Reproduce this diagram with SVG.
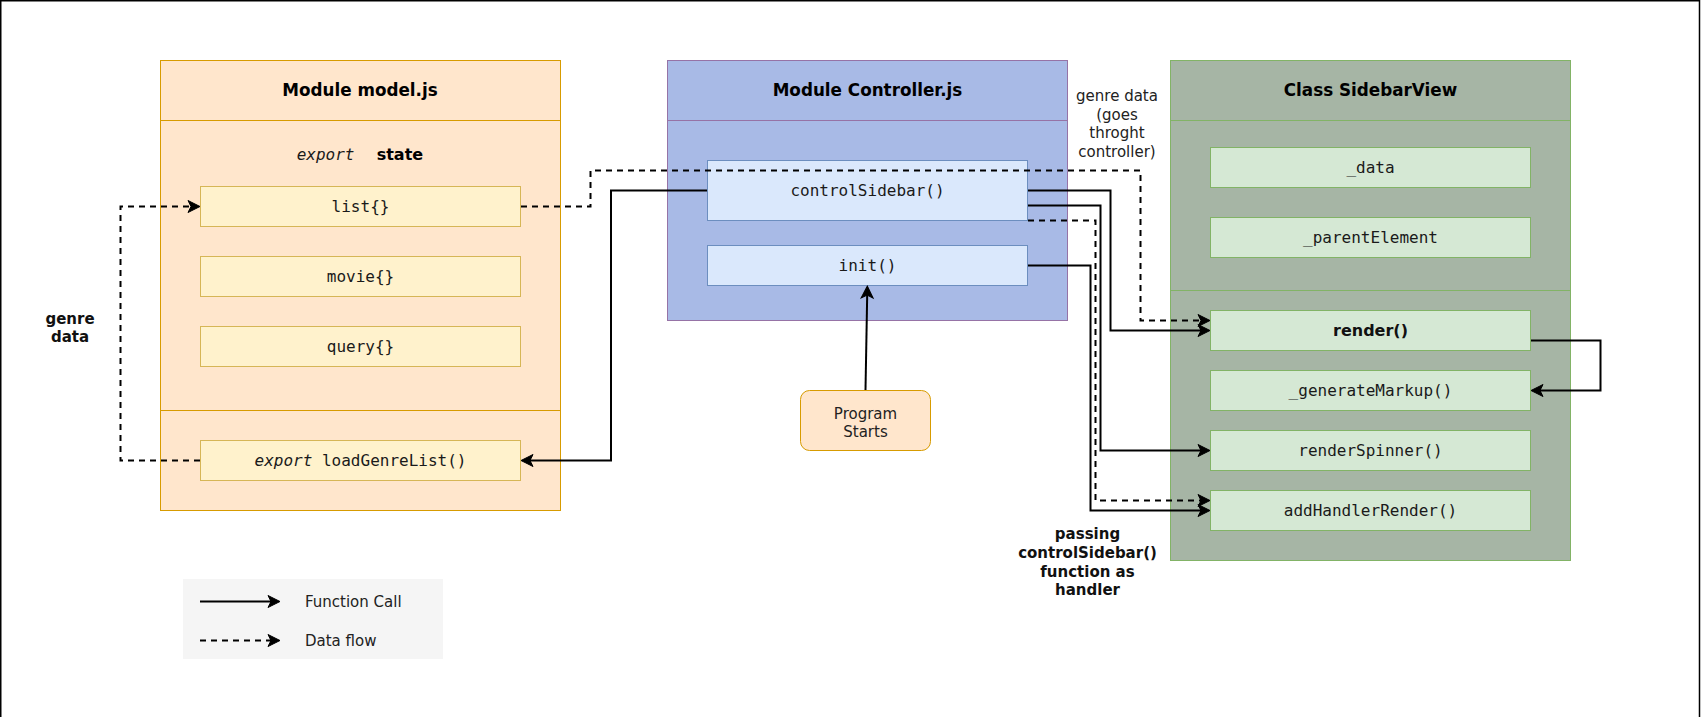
<svg xmlns="http://www.w3.org/2000/svg" width="1701" height="717" viewBox="0 0 1701 717">
  <style>
    .sans { font-family: "DejaVu Sans", "Liberation Sans", sans-serif; }
    .mono { font-family: "DejaVu Sans Mono", "Liberation Mono", monospace; font-size: 16px; fill: #1a1a1a; }
    .title { font-family: "DejaVu Sans", "Liberation Sans", sans-serif; font-size: 16.8px; font-weight: bold; fill: #000; }
    .label { font-family: "DejaVu Sans", "Liberation Sans", sans-serif; font-size: 15px; fill: #222; }
    .blabel { font-family: "DejaVu Sans", "Liberation Sans", sans-serif; font-size: 15px; font-weight: bold; fill: #111; }
    .model { fill: #ffe6cc; stroke: #d79b00; stroke-width: 1; }
    .model-item { fill: #fff2cc; stroke: #d6b656; stroke-width: 1; }
    .ctrl { fill: #a8bae6; stroke: #9673a6; stroke-width: 1; }
    .ctrl-item { fill: #dae8fc; stroke: #6c8ebf; stroke-width: 1; }
    .view { fill: #a6b5a5; stroke: #82b366; stroke-width: 1; }
    .view-item { fill: #d5e8d4; stroke: #82b366; stroke-width: 1; }
    .call { fill: none; stroke: #000; stroke-width: 2; marker-end: url(#arrow); }
    .flow { fill: none; stroke: #000; stroke-width: 2; stroke-dasharray: 6 5; marker-end: url(#arrow); }
  </style>
  <defs>
    <marker id="arrow" markerUnits="userSpaceOnUse" markerWidth="20" markerHeight="20" refX="0" refY="0" orient="auto" overflow="visible">
      <path d="M 3 0 L -9 -6 L -6 0 L -9 6 Z" fill="#000" stroke="#000" stroke-width="1" stroke-linejoin="miter"/>
    </marker>
  </defs>

  <rect x="0" y="0" width="1701" height="717" fill="#ffffff"/>
  <path d="M 0.75 717 V 0.75 H 1699.5 V 717" fill="none" stroke="#000" stroke-width="1.5"/>

  <!-- Module model.js -->
  <g id="model">
    <rect class="model" x="160.5" y="60.5" width="400" height="450"/>
    <line x1="160.5" y1="120.5" x2="560.5" y2="120.5" stroke="#d79b00"/>
    <line x1="160.5" y1="410.5" x2="560.5" y2="410.5" stroke="#d79b00"/>
    <text class="title" x="360" y="96" text-anchor="middle">Module model.js</text>
    <text class="mono" x="296.7" y="160" font-style="italic">export</text>
    <text class="sans" x="376.7" y="160" font-size="16" font-weight="bold" fill="#000">state</text>
  </g>
  <g id="model-list">
    <rect class="model-item" x="200.5" y="186.5" width="320" height="40"/>
    <text class="mono" x="360.5" y="212" text-anchor="middle">list{}</text>
  </g>
  <g id="model-movie">
    <rect class="model-item" x="200.5" y="256.5" width="320" height="40"/>
    <text class="mono" x="360.5" y="282" text-anchor="middle">movie{}</text>
  </g>
  <g id="model-query">
    <rect class="model-item" x="200.5" y="326.5" width="320" height="40"/>
    <text class="mono" x="360.5" y="352" text-anchor="middle">query{}</text>
  </g>
  <g id="model-loadGenreList">
    <rect class="model-item" x="200.5" y="440.5" width="320" height="40"/>
    <text class="mono" x="360.5" y="466" text-anchor="middle"><tspan font-style="italic">export</tspan> loadGenreList()</text>
  </g>

  <!-- Module Controller.js -->
  <g id="controller">
    <rect class="ctrl" x="667.5" y="60.5" width="400" height="260"/>
    <line x1="667.5" y1="120.5" x2="1067.5" y2="120.5" stroke="#9673a6"/>
    <text class="title" x="867.5" y="96" text-anchor="middle">Module Controller.js</text>
  </g>
  <g id="controller-controlSidebar">
    <rect class="ctrl-item" x="707.5" y="160.5" width="320" height="60"/>
    <text class="mono" x="867.5" y="196" text-anchor="middle">controlSidebar()</text>
  </g>
  <g id="controller-init">
    <rect class="ctrl-item" x="707.5" y="245.5" width="320" height="40"/>
    <text class="mono" x="867.5" y="271" text-anchor="middle">init()</text>
  </g>

  <!-- Class SidebarView -->
  <g id="sidebar-view">
    <rect class="view" x="1170.5" y="60.5" width="400" height="500"/>
    <line x1="1170.5" y1="120.5" x2="1570.5" y2="120.5" stroke="#82b366"/>
    <line x1="1170.5" y1="290.5" x2="1570.5" y2="290.5" stroke="#82b366"/>
    <text class="title" x="1370.5" y="96" text-anchor="middle">Class SidebarView</text>
  </g>
  <g id="view-data">
    <rect class="view-item" x="1210.5" y="147.5" width="320" height="40"/>
    <text class="mono" x="1370.5" y="173" text-anchor="middle">_data</text>
  </g>
  <g id="view-parentElement">
    <rect class="view-item" x="1210.5" y="217.5" width="320" height="40"/>
    <text class="mono" x="1370.5" y="243" text-anchor="middle">_parentElement</text>
  </g>
  <g id="view-render">
    <rect class="view-item" x="1210.5" y="310.5" width="320" height="40"/>
    <text class="sans" x="1370.5" y="336" text-anchor="middle" font-size="16" font-weight="bold" fill="#111">render()</text>
  </g>
  <g id="view-generateMarkup">
    <rect class="view-item" x="1210.5" y="370.5" width="320" height="40"/>
    <text class="mono" x="1370.5" y="396" text-anchor="middle">_generateMarkup()</text>
  </g>
  <g id="view-renderSpinner">
    <rect class="view-item" x="1210.5" y="430.5" width="320" height="40"/>
    <text class="mono" x="1370.5" y="456" text-anchor="middle">renderSpinner()</text>
  </g>
  <g id="view-addHandlerRender">
    <rect class="view-item" x="1210.5" y="490.5" width="320" height="40"/>
    <text class="mono" x="1370.5" y="516" text-anchor="middle">addHandlerRender()</text>
  </g>

  <!-- Program Starts -->
  <g id="program-starts">
    <rect x="800.5" y="390.5" width="130" height="60" rx="9" ry="9" fill="#ffe6cc" stroke="#d79b00"/>
    <text class="label" x="865.5" y="418.5" text-anchor="middle">Program</text>
    <text class="label" x="865.5" y="437" text-anchor="middle">Starts</text>
  </g>

  <!-- Connectors -->
  <g id="connectors">
    <!-- list{} data forwarded through the controller to render() -->
    <path class="flow" d="M 521 206.5 H 590.5 V 170.5 H 1140.5 V 320.5 H 1207"/>
    <!-- controlSidebar() calls loadGenreList() -->
    <path class="call" d="M 707 190.5 H 611 V 460.5 H 524"/>
    <!-- loadGenreList() fills list{} -->
    <path class="flow" d="M 200 460.5 H 120.5 V 206.5 H 197"/>
    <!-- controlSidebar() calls render() -->
    <path class="call" d="M 1028 190.5 H 1110.5 V 330.5 H 1207"/>
    <!-- controlSidebar() calls renderSpinner() -->
    <path class="call" d="M 1028 205.5 H 1100.5 V 450.5 H 1207"/>
    <!-- controlSidebar() passed as handler -->
    <path class="flow" d="M 1028 220.5 H 1095.5 V 500.5 H 1207"/>
    <!-- init() calls addHandlerRender() -->
    <path class="call" d="M 1028 265.5 H 1090.5 V 510.5 H 1207"/>
    <!-- render() calls _generateMarkup() -->
    <path class="call" d="M 1531 340.5 H 1600.5 V 390.5 H 1534"/>
    <!-- Program start triggers init() -->
    <path class="call" d="M 865.5 390 L 867.3 289"/>
  </g>

  <!-- Edge labels -->
  <g id="label-genre-data-left">
    <text class="blabel" x="70" y="323.5" text-anchor="middle">genre</text>
    <text class="blabel" x="70" y="342.3" text-anchor="middle">data</text>
  </g>
  <g id="label-genre-data-right">
    <text class="label" x="1117" y="101" text-anchor="middle">genre data</text>
    <text class="label" x="1117" y="119.7" text-anchor="middle">(goes</text>
    <text class="label" x="1117" y="138.4" text-anchor="middle">throght</text>
    <text class="label" x="1117" y="157.1" text-anchor="middle">controller)</text>
  </g>
  <g id="label-passing-handler">
    <text class="blabel" x="1087.5" y="539" text-anchor="middle">passing</text>
    <text class="blabel" x="1087.5" y="557.8" text-anchor="middle">controlSidebar()</text>
    <text class="blabel" x="1087.5" y="576.6" text-anchor="middle">function as</text>
    <text class="blabel" x="1087.5" y="595.4" text-anchor="middle">handler</text>
  </g>

  <!-- Legend -->
  <g id="legend">
    <rect x="183" y="579" width="260" height="80" fill="#f5f5f5"/>
    <path class="call" d="M 200 601.5 H 277"/>
    <text class="label" x="305" y="607">Function Call</text>
    <path class="flow" d="M 200 640.5 H 277"/>
    <text class="label" x="305" y="646">Data flow</text>
  </g>
</svg>
